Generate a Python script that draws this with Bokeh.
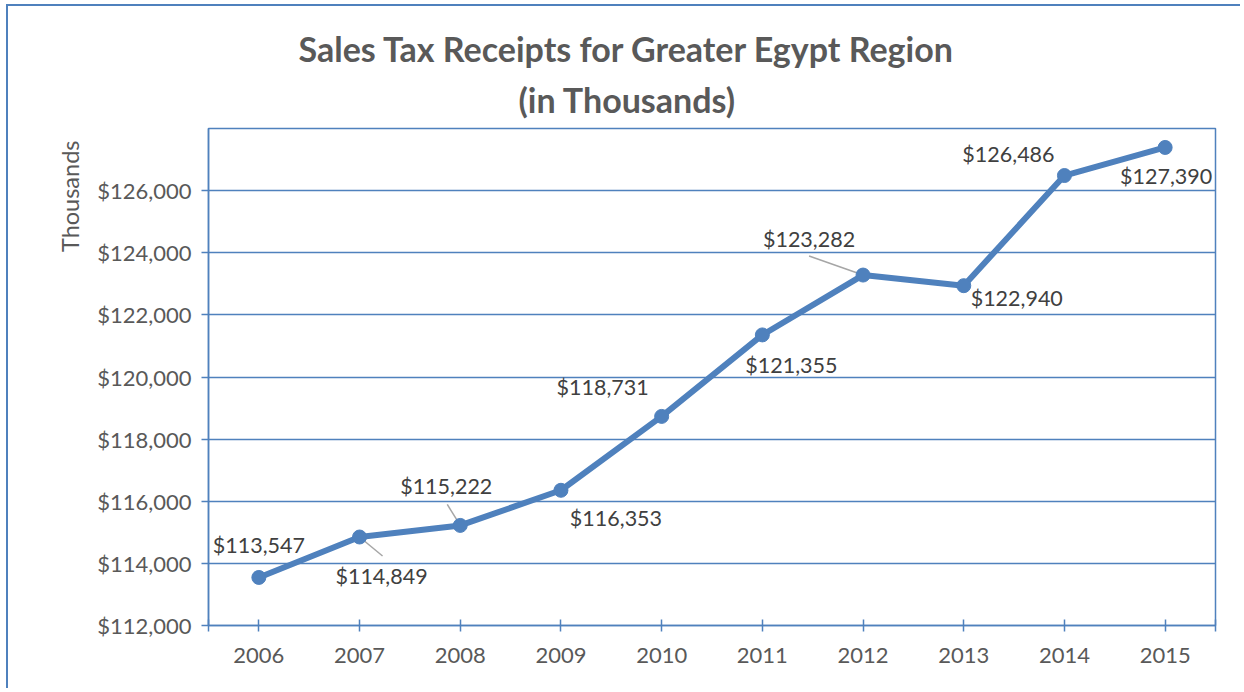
from bokeh.plotting import figure
from bokeh.models import FixedTicker, NumeralTickFormatter, Range1d, ColumnDataSource, Title
from bokeh.embed import file_html
from bokeh.resources import INLINE
from bokeh.core.properties import value

# ---- data ----
years = [2006, 2007, 2008, 2009, 2010, 2011, 2012, 2013, 2014, 2015]
receipts = [113547, 114849, 115222, 116353, 118731, 121355, 123282, 122940, 126486, 127390]
y_ticks = [112000, 114000, 116000, 118000, 120000, 122000, 124000, 126000]
title_lines = ["Sales Tax Receipts for Greater Egypt Region", "(in Thousands)"]
y_title = "Thousands"

# ---- layout / style ----
BLUE = "#4f81bd"
FONT = "Lato"
W, H = 1234, 684
ML, MT, MR, MB = 200, 122, 27, 65
FW, FH = W - ML - MR, H - MT - MB
Y0, Y1 = 112000, 128000
X0, X1 = years[0] - 0.5, years[-1] + 0.5
PX_X = FW / (X1 - X0)
PX_Y = FH / (Y1 - Y0)

# data-label offsets in pixels (x right, y down)
label_dx = [0, 22, -14, 55, -59, 29, -54, 53, -56, 1]
label_dy = [-32, 39, -39, 28, -29, 30, -36, 12, -22, 29]
# leader lines: (index, start dx, start dy, end dx, end dy) in pixels, y up
leaders = [(1, 0, 0, 23, -19), (2, -13, 21, 0, 0), (6, -54, 19, 0, 0)]

p = figure(width=W, height=H, output_backend="svg", toolbar_location=None,
           x_range=Range1d(X0, X1), y_range=Range1d(Y0, Y1),
           min_border_left=ML, min_border_top=MT, min_border_right=MR, min_border_bottom=MB)
p.styles = {"margin-left": "6px", "margin-top": "4px",
            "border-left": "2px solid " + BLUE, "border-top": "2px solid " + BLUE}

p.outline_line_color = BLUE
p.outline_line_width = 1.5
p.background_fill_color = "white"
p.border_fill_color = "white"

p.xgrid.visible = False
p.ygrid.grid_line_color = BLUE
p.ygrid.grid_line_width = 1.5
p.ygrid.ticker = FixedTicker(ticks=y_ticks)

p.yaxis.ticker = FixedTicker(ticks=y_ticks)
p.yaxis.formatter = NumeralTickFormatter(format="$0,0")
p.xaxis.ticker = FixedTicker(ticks=years, minor_ticks=[X0, X1])

for ax in (p.xaxis[0], p.yaxis[0]):
    ax.axis_line_color = BLUE
    ax.axis_line_width = 1.5
    ax.major_tick_line_color = BLUE
    ax.major_tick_line_width = 1.5
    ax.major_label_text_font = FONT
    ax.major_label_text_font_size = "22px"
    ax.major_label_text_color = "#595959"

p.xaxis.major_tick_in = 6
p.xaxis.major_tick_out = 6
p.xaxis.minor_tick_in = 6
p.xaxis.minor_tick_out = 6
p.xaxis.minor_tick_line_color = BLUE
p.xaxis.minor_tick_line_width = 1.5
p.xaxis.major_label_standoff = 16
p.yaxis.major_tick_in = 0
p.yaxis.major_tick_out = 7
p.yaxis.minor_tick_line_color = None
p.yaxis.major_label_standoff = 10

# main series
src = ColumnDataSource(dict(
    x=years, y=receipts,
    txt=[f"${v:,}" for v in receipts],
    dx=label_dx, dy=label_dy,
))

# leader lines
lx0, ly0, lx1, ly1 = [], [], [], []
for i, sx0, sy0, sx1, sy1 in leaders:
    lx0.append(years[i] + sx0 / PX_X)
    ly0.append(receipts[i] + sy0 / PX_Y)
    lx1.append(years[i] + sx1 / PX_X)
    ly1.append(receipts[i] + sy1 / PX_Y)
p.segment(lx0, ly0, lx1, ly1, line_color="#a6a6a6", line_width=1.5)

p.line("x", "y", source=src, line_color=BLUE, line_width=6, line_join="round")
p.scatter("x", "y", source=src, size=14, fill_color=BLUE, line_color=BLUE)

p.text("x", "y", text="txt", source=src, x_offset="dx", y_offset="dy",
       text_align="center", text_baseline="middle",
       text_font=value(FONT), text_font_size="21.5px", text_color="#404040")

# two-line title: closest to the frame first
p.add_layout(Title(text=title_lines[1], align="left", offset=310, standoff=17,
                   text_font=FONT, text_font_size="34px", text_font_style="bold",
                   text_color="#595959"), "above")
p.add_layout(Title(text=title_lines[0], align="left", offset=90, standoff=0,
                   text_font=FONT, text_font_size="34px", text_font_style="bold",
                   text_color="#595959"), "above")

# rotated axis title near the top of the left side
p.add_layout(Title(text=y_title, align="right", offset=12, standoff=21,
                   text_font=FONT, text_font_size="23.5px", text_font_style="normal",
                   text_color="#595959"), "left")

open("out.html", "w").write(file_html(p, INLINE))
